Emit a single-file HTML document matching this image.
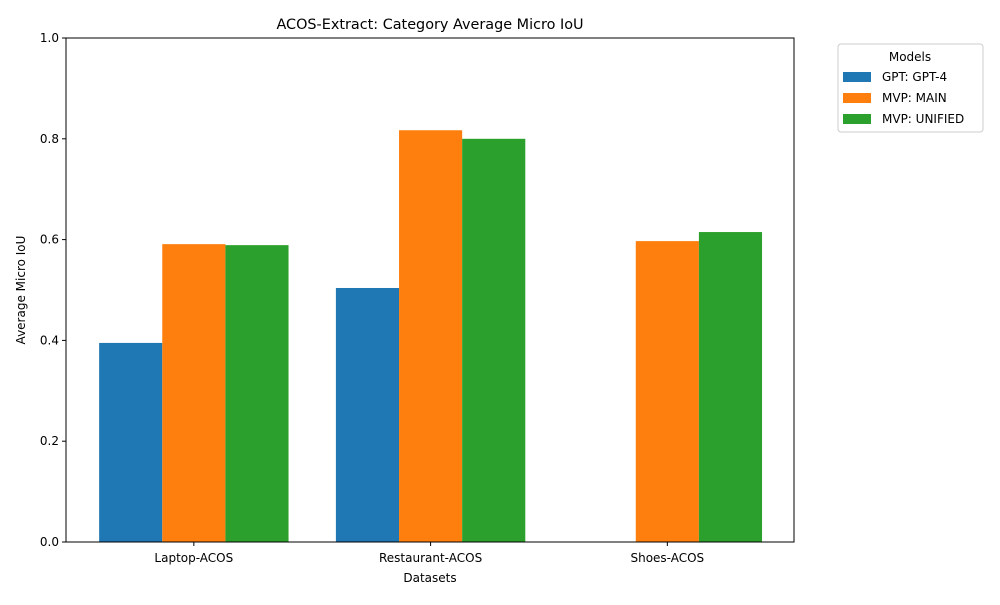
<!DOCTYPE html>
<html><head><meta charset="utf-8"><style>
body{margin:0;background:#fff;font-family:"Liberation Sans","DejaVu Sans",sans-serif;}
svg text{font-family:"DejaVu Sans","Liberation Sans",sans-serif;}
</style></head><body>
<svg id="chart" width="1000" height="600" xmlns="http://www.w3.org/2000/svg"></svg>
<script>
const categories=["Laptop-ACOS","Restaurant-ACOS","Shoes-ACOS"];
const seriesNames=["GPT: GPT-4","MVP: MAIN","MVP: UNIFIED"];
const gpt4=[0.395,0.504,null];
const mvpMain=[0.591,0.817,0.597];
const mvpUnified=[0.589,0.800,0.615];
const yTicks=[0,0.2,0.4,0.6,0.8,1.0];
const colors=["#1f77b4","#ff7f0e","#2ca02c"];
const series=[gpt4,mvpMain,mvpUnified];
const svg=document.getElementById('chart');
const NS="http://www.w3.org/2000/svg";
const L=66,R=794,T=38,B=542;
const xmin=-0.54,xmax=2.535;
const xs=v=>L+(v-xmin)/(xmax-xmin)*(R-L);
const ys=v=>B-v*(B-T);
function mk(tag,attrs,txt){const e=document.createElementNS(NS,tag);for(const k in attrs)e.setAttribute(k,attrs[k]);if(txt!==undefined)e.textContent=txt;svg.appendChild(e);return e;}
const bw=0.8/3;
series.forEach((s,si)=>{s.forEach((v,ci)=>{if(v==null)return;
const x0=xs(ci-0.4+si*bw),x1=xs(ci-0.4+(si+1)*bw);
const r=mk('rect',{x:x0,y:ys(v),width:x1-x0,height:ys(0)-ys(v),fill:colors[si]});

});});
const fr=mk('rect',{x:L,y:T,width:R-L,height:B-T,fill:'none',stroke:'#000','stroke-width':1});

yTicks.forEach(t=>{const y=ys(t);mk('line',{x1:L-4,x2:L,y1:y,y2:y,stroke:'#000'});
const tx=mk('text',{x:L-7,y:y+4,'text-anchor':'end','font-size':12},t.toFixed(1));
});
categories.forEach((c,i)=>{const x=xs(i);mk('line',{x1:x,x2:x,y1:B,y2:B+4,stroke:'#000'});
const tx=mk('text',{x:x,y:B+20,'text-anchor':'middle','font-size':12},c);
});
let t=mk('text',{x:(L+R)/2,y:29,'text-anchor':'middle','font-size':14.4},'ACOS-Extract: Category Average Micro IoU');

t=mk('text',{x:(L+R)/2,y:582,'text-anchor':'middle','font-size':12},'Datasets');

t=mk('text',{x:0,y:0,'text-anchor':'middle','font-size':12,transform:'translate(25,290) rotate(-90)'},'Average Micro IoU');

const lg=mk('rect',{x:838,y:44,width:145,height:88,fill:'#fff',stroke:'#ccc',rx:3});

t=mk('text',{x:910,y:61,'text-anchor':'middle','font-size':12},'Models');

seriesNames.forEach((n,i)=>{const y=77+i*21;
mk('rect',{x:843,y:y-5,width:28,height:10,fill:colors[i]});
const e=mk('text',{x:882,y:y+4,'font-size':12},n);
});
</script>
</body></html>
